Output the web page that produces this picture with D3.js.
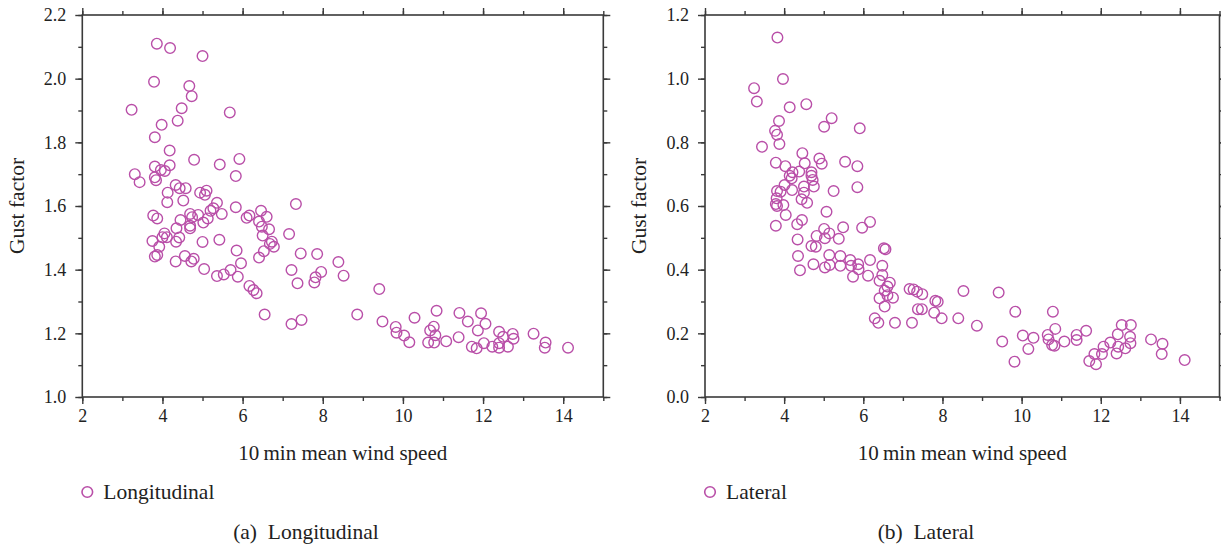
<!DOCTYPE html>
<html><head><meta charset="utf-8">
<script src="https://cdn.jsdelivr.net/npm/d3@7"></script>
<style>
body{margin:0;background:#fff;}
svg{display:block;font-family:"Liberation Serif","Times New Roman",serif;}
svg text{font-family:"Liberation Serif","Times New Roman",serif !important;}
</style></head>
<body><svg id="c" width="1221" height="548"></svg>
<script>
const xTickLabels = [2,4,6,8,10,12,14];
const lonYTicks = [1.0,1.2,1.4,1.6,1.8,2.0,2.2];
const latYTicks = [0.0,0.2,0.4,0.6,0.8,1.0,1.2];

const lonSpeed = [3.86,4.19,5.00,3.79,4.67,4.73,3.23,4.48,5.68,3.98,4.38,3.81,4.18,4.79,5.43,5.92,3.81,4.18,3.96,4.06,3.31,3.43,3.81,3.84,5.83,4.33,4.58,4.43,4.13,4.94,5.10,5.06,4.12,4.52,5.36,5.27,5.20,5.48,4.89,4.69,4.74,4.45,5.13,5.02,4.69,4.69,4.35,3.77,3.87,5.83,6.10,6.17,6.46,6.60,6.41,6.48,6.66,6.50,6.73,6.68,6.78,7.33,7.16,7.45,7.86,8.39,8.52,7.22,7.96,7.82,7.79,7.37,4.05,4.11,4.00,3.75,4.34,4.42,3.92,3.87,3.81,4.33,4.56,4.78,4.72,5.00,5.42,5.85,5.96,5.04,5.36,5.53,5.70,5.88,6.17,6.27,6.35,6.55,7.22,7.47,6.41,6.53,9.41,8.86,9.49,9.82,9.84,10.03,10.16,10.29,10.84,10.77,10.68,10.81,10.63,10.78,11.08,11.39,11.41,11.62,11.95,12.06,11.87,11.72,11.84,12.02,12.23,12.40,12.40,12.40,12.50,12.62,12.74,12.76,13.26,13.56,13.54,14.12];
const lonGust = [2.110,2.096,2.071,1.990,1.977,1.945,1.902,1.907,1.894,1.855,1.868,1.816,1.774,1.745,1.730,1.748,1.724,1.728,1.713,1.710,1.700,1.675,1.690,1.681,1.694,1.666,1.656,1.656,1.642,1.642,1.648,1.635,1.612,1.617,1.610,1.593,1.585,1.575,1.572,1.575,1.565,1.556,1.561,1.548,1.538,1.530,1.530,1.570,1.561,1.596,1.563,1.570,1.585,1.566,1.551,1.535,1.527,1.507,1.488,1.481,1.472,1.606,1.512,1.451,1.449,1.424,1.381,1.399,1.393,1.376,1.360,1.357,1.514,1.502,1.502,1.490,1.488,1.501,1.472,1.446,1.441,1.426,1.443,1.434,1.426,1.487,1.494,1.460,1.420,1.402,1.380,1.385,1.399,1.378,1.349,1.336,1.326,1.259,1.229,1.242,1.438,1.458,1.339,1.259,1.237,1.220,1.202,1.193,1.172,1.249,1.271,1.221,1.209,1.194,1.171,1.171,1.175,1.188,1.264,1.237,1.263,1.230,1.209,1.158,1.153,1.169,1.158,1.205,1.169,1.155,1.189,1.158,1.198,1.183,1.199,1.171,1.155,1.155];

const latSpeed = [3.83,3.97,3.24,3.31,4.14,4.56,3.87,5.20,5.01,5.91,3.77,3.82,3.88,3.44,4.46,4.89,4.95,5.54,5.85,3.79,4.03,4.52,4.21,4.38,4.69,4.69,4.72,4.14,4.19,4.01,4.20,4.50,4.75,4.50,5.25,5.85,3.82,3.91,3.81,4.44,4.58,3.79,3.82,3.98,4.04,5.07,4.45,4.33,3.79,5.01,5.49,5.97,6.17,5.14,5.03,4.82,5.38,4.34,4.69,4.80,6.52,6.56,4.35,5.14,5.42,5.67,5.87,6.17,6.48,4.40,4.74,5.03,5.15,5.42,5.69,5.88,5.74,6.12,6.48,6.41,6.67,6.61,6.54,6.61,6.75,6.41,6.54,7.17,7.27,7.36,7.49,7.38,7.48,7.82,7.88,7.79,7.98,8.40,8.53,6.29,6.38,6.80,7.23,9.42,8.87,9.84,9.51,9.82,10.03,10.17,10.30,10.79,10.66,10.68,10.85,10.77,10.83,11.08,11.39,11.39,11.63,11.71,11.88,11.84,12.03,12.07,12.24,12.40,12.43,12.53,12.76,12.74,12.75,12.62,13.27,13.56,13.54,14.12,12.44];
const latGust = [1.129,0.999,0.970,0.928,0.910,0.920,0.867,0.876,0.849,0.844,0.836,0.824,0.795,0.786,0.766,0.749,0.733,0.739,0.725,0.736,0.725,0.734,0.706,0.708,0.706,0.695,0.682,0.695,0.687,0.666,0.650,0.661,0.661,0.642,0.647,0.659,0.647,0.645,0.624,0.621,0.610,0.606,0.600,0.603,0.572,0.582,0.556,0.543,0.538,0.528,0.533,0.532,0.550,0.514,0.499,0.506,0.497,0.495,0.474,0.472,0.467,0.464,0.443,0.446,0.443,0.430,0.417,0.430,0.412,0.398,0.417,0.407,0.415,0.412,0.412,0.401,0.378,0.381,0.383,0.365,0.359,0.347,0.334,0.320,0.312,0.310,0.284,0.339,0.338,0.331,0.323,0.276,0.276,0.302,0.299,0.265,0.247,0.247,0.333,0.247,0.233,0.233,0.233,0.328,0.224,0.268,0.174,0.111,0.193,0.151,0.186,0.268,0.195,0.181,0.214,0.163,0.161,0.174,0.195,0.179,0.208,0.113,0.103,0.135,0.135,0.158,0.171,0.137,0.197,0.226,0.226,0.189,0.169,0.153,0.181,0.167,0.135,0.116,0.158];

const color = "#b94fa8";
const axisColor = "#3a3a3a";
const serif = '"Liberation Serif","Times New Roman",serif';
const svg = d3.select("#c");

function panel(cfg){
  const {x0,x1,y0,y1,yDomain,yTicks,xs,ys,legend,caption,capX,yTitleX} = cfg;
  const x = d3.scaleLinear().domain([2,15]).range([x0,x1]);
  const y = d3.scaleLinear().domain(yDomain).range([y1,y0]);
  const g = svg.append("g");
  const xMinor = d3.range(2,16,1);
  const yMinor = d3.range(yDomain[0], yDomain[1]+0.001, 0.1).map(v=>+v.toFixed(2));
  const fmt = d3.format(".1f");
  function ax(gen, tr){
    const a = g.append("g").attr("transform",tr).call(gen);
    a.attr("font-family",serif).attr("font-size",18);
    a.select(".domain").remove();
    a.selectAll("line").attr("stroke",axisColor).attr("stroke-width",1.4);
    a.selectAll("text").attr("fill","#222").style("font-size","18px");
    return a;
  }
  ax(d3.axisBottom(x).tickValues(xMinor).tickSize(4).tickFormat(""), `translate(0,${y1})`);
  ax(d3.axisTop(x).tickValues(xMinor).tickSize(4).tickFormat(""), `translate(0,${y0})`);
  ax(d3.axisLeft(y).tickValues(yMinor).tickSize(4).tickFormat(""), `translate(${x0},0)`);
  ax(d3.axisRight(y).tickValues(yMinor).tickSize(4).tickFormat(""), `translate(${x1},0)`);
  ax(d3.axisBottom(x).tickValues(xTickLabels).tickSize(7).tickPadding(5).tickFormat(d3.format("d")), `translate(0,${y1})`);
  ax(d3.axisTop(x).tickValues(xTickLabels).tickSize(7).tickFormat(""), `translate(0,${y0})`);
  ax(d3.axisLeft(y).tickValues(yTicks).tickSize(7).tickPadding(9).tickFormat(fmt), `translate(${x0},0)`);
  ax(d3.axisRight(y).tickValues(yTicks).tickSize(7).tickFormat(""), `translate(${x1},0)`);
  g.append("rect").attr("x",x0).attr("y",y0).attr("width",x1-x0).attr("height",y1-y0)
    .attr("fill","none").attr("stroke",axisColor).attr("stroke-width",1.6);
  g.append("g").selectAll("circle").data(xs.map((v,i)=>[v,ys[i]])).join("circle")
    .attr("cx",d=>x(d[0])).attr("cy",d=>y(d[1])).attr("r",5.3)
    .attr("fill","none").attr("stroke",color).attr("stroke-width",1.4);
  g.append("text").attr("x",(x0+x1)/2).attr("y",460).attr("text-anchor","middle")
    .style("font-size","21px").attr("fill","#222").text("10\u2009min mean wind speed");
  g.append("text").attr("transform",`translate(${yTitleX},${(y0+y1)/2}) rotate(-90)`).attr("text-anchor","middle")
    .style("font-size","21.5px").attr("fill","#222").text("Gust factor");
  g.append("circle").attr("cx",x0+5).attr("cy",492).attr("r",5.3).attr("fill","none").attr("stroke",color).attr("stroke-width",1.6);
  g.append("text").attr("x",x0+21).attr("y",499).style("font-size","21.5px").attr("fill","#222").text(legend);
  g.append("text").attr("x",capX).attr("y",539).attr("text-anchor","middle").style("white-space","pre")
    .style("font-size","21.5px").attr("fill","#222").text(caption);
}

panel({x0:82.3,x1:603.3,y0:15,y1:397,yDomain:[1.0,2.2],yTicks:lonYTicks,xs:lonSpeed,ys:lonGust,
  legend:"Longitudinal",caption:"(a)  Longitudinal",capX:306,yTitleX:24});
panel({x0:705,x1:1219.5,y0:15,y1:397,yDomain:[0.0,1.2],yTicks:latYTicks,xs:latSpeed,ys:latGust,
  legend:"Lateral",caption:"(b)  Lateral",capX:926,yTitleX:646});
</script>
</body></html>
